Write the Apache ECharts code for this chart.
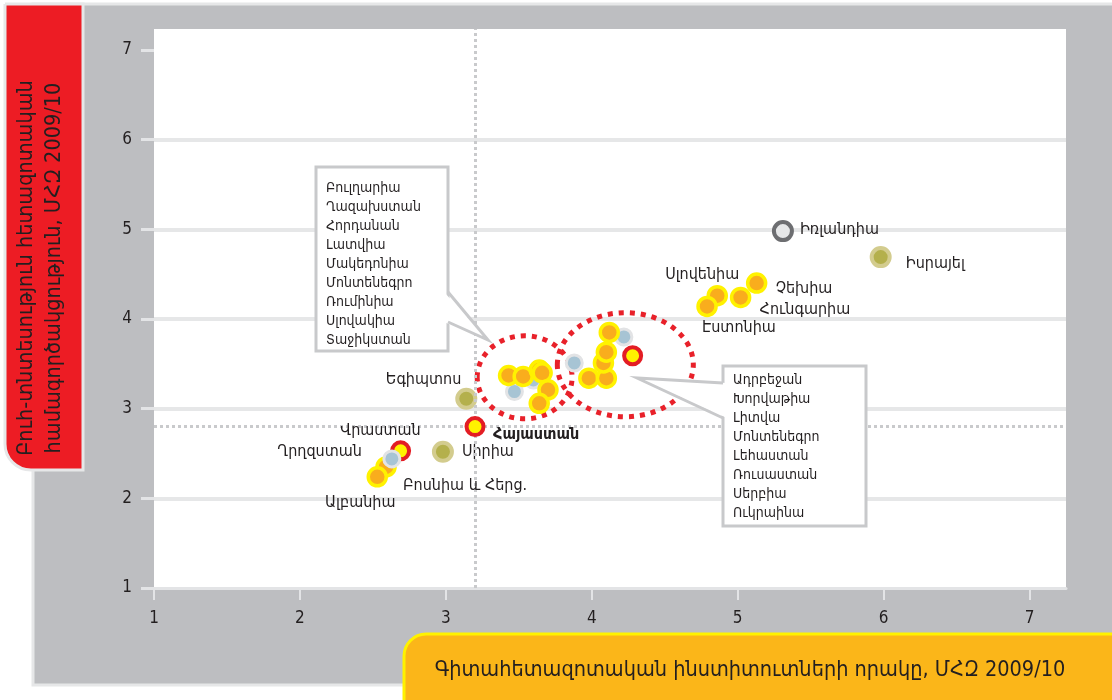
<!DOCTYPE html>
<html>
<head>
<meta charset="utf-8">
<script src="https://cdn.jsdelivr.net/npm/echarts@6/dist/echarts.min.js"></script>
<style>
html, body { margin: 0; padding: 0; background: #fff; }
#chart { width: 1112px; height: 700px; }
</style>
</head>
<body>
<div id="chart"></div>
<script>
// Կենտրոնական և Արևելյան Եվրոպա
var ceeNames = ['Սլովենիա', 'Չեխիա', 'Հունգարիա', 'Էստոնիա', 'Բոսնիա և Հերց.', 'Ալբանիա',
    '', '', '', '', '', '', '', '', '', '', ''];
var ceeX = [4.86, 5.13, 5.02, 4.79, 2.59, 2.53, 3.43, 3.53, 3.64, 3.66, 3.70, 3.64, 3.98, 4.10, 4.08, 4.10, 4.12];
var ceeY = [4.26, 4.40, 4.24, 4.14, 2.35, 2.24, 3.37, 3.36, 3.43, 3.40, 3.21, 3.06, 3.34, 3.34, 3.51, 3.63, 3.85];

// ԱՊՀ
var cisNames = ['', '', '', ''];
var cisX = [3.47, 3.60, 3.88, 4.22];
var cisY = [3.19, 3.32, 3.51, 3.80];

// Ղրղզստանը գծվում է վերևում
var kgNames = ['Ղրղզստան'];
var kgX = [2.63];
var kgY = [2.44];

// Մերձավոր Արևելք
var meNames = ['Եգիպտոս', 'Սիրիա', 'Իսրայել'];
var meX = [3.14, 2.98, 5.98];
var meY = [3.11, 2.52, 4.69];

// Հարավային Կովկաս
var caucNames = ['Հայաստան', 'Վրաստան', ''];
var caucX = [3.20, 2.69, 4.28];
var caucY = [2.80, 2.53, 3.59];

// Իռլանդիա
var refNames = ['Իռլանդիա'];
var refX = [5.31];
var refY = [4.98];

// Հայաստանի մակարդակը
var armX = 3.2;
var armY = 2.8;

var axisTicks = [1, 2, 3, 4, 5, 6, 7];

var leftList = ['Բուլղարիա', 'Ղազախստան', 'Հորդանան', 'Լատվիա', 'Մակեդոնիա', 'Մոնտենեգրո', 'Ռումինիա', 'Սլովակիա', 'Տաջիկստան'];
var rightList = ['Ադրբեջան', 'Խորվաթիա', 'Լիտվա', 'Մոնտենեգրո', 'Լեհաստան', 'Ռուսաստան', 'Սերբիա', 'Ուկրաինա'];

var yTitle = 'Բուհ-տնտեսություն հետազոտական\nհամագործակցություն, ՄՀԶ 2009/10';
var xTitle = 'Գիտահետազոտական ինստիտուտների որակը, ՄՀԶ 2009/10';

var FONT = '"DejaVu Sans Condensed", "DejaVu Sans", sans-serif';
var INK = '#231f20';

// պիտակների դիրքը կետի կենտրոնից [dx, dy, align]
var labelPlace = {
    'Իռլանդիա': [17, -1, 'left'],
    'Իսրայել': [25, 7, 'left'],
    'Սլովենիա': [22, -21, 'right'],
    'Չեխիա': [19, 6, 'left'],
    'Հունգարիա': [19, 12, 'left'],
    'Էստոնիա': [-5, 21, 'left'],
    'Եգիպտոս': [-5, -19, 'right'],
    'Հայաստան': [18, 8, 'left', 'bold'],
    'Վրաստան': [20, -20, 'right'],
    'Ղրղզստան': [-30, -7, 'right'],
    'Բոսնիա և Հերց.': [17, 19, 'left'],
    'Ալբանիա': [-17, 26, 'center'],
    'Սիրիա': [19, 0, 'left']
};

function makeData(names, xs, ys) {
    return names.map(function (n, i) {
        var item = { name: n, value: [xs[i], ys[i]] };
        var p = labelPlace[n];
        if (p) {
            item.label = {
                show: true, position: 'inside', offset: [p[0], p[1]],
                align: p[2], verticalAlign: 'middle', fontWeight: p[3] || 'normal'
            };
        }
        return item;
    });
}

function dotSeries(names, xs, ys, size, fill, border, bw, z) {
    return {
        type: 'scatter',
        z: z,
        symbolSize: size,
        data: makeData(names, xs, ys),
        itemStyle: { color: fill, borderColor: border, borderWidth: bw, opacity: 1 },
        label: { show: false, formatter: '{b}', color: INK, fontSize: 16, fontFamily: FONT },
        emphasis: { disabled: true },
        animation: false
    };
}

var myChart = echarts.init(document.getElementById('chart'));

var option = {
    backgroundColor: '#fff',
    animation: false,
    grid: {
        left: 154, right: 46, top: 29, bottom: 112,
        show: true, backgroundColor: '#fff', borderWidth: 0,
        containLabel: false, outerBoundsMode: 'none'
    },
    xAxis: {
        type: 'value', min: 1, max: 7.25, interval: 1,
        axisLine: { show: true, lineStyle: { color: '#e3e4e6', width: 3 } },
        axisTick: { show: true, length: 12, customValues: axisTicks, lineStyle: { color: '#e3e4e6', width: 2 } },
        axisLabel: { customValues: axisTicks, color: INK, fontSize: 17, fontFamily: FONT, margin: 22 },
        splitLine: { show: false }
    },
    yAxis: {
        type: 'value', min: 1, max: 7.234, interval: 1,
        axisLine: { show: false },
        axisTick: { show: true, length: 13, customValues: axisTicks, lineStyle: { color: '#e3e4e6', width: 3 } },
        axisLabel: { customValues: axisTicks, color: INK, fontSize: 17, fontFamily: FONT, margin: 22 },
        splitLine: { show: true, showMinLine: false, showMaxLine: false, lineStyle: { color: '#e6e7e8', width: 4 } }
    },
    series: [
        {
            type: 'scatter', z: 1, data: [],
            markLine: {
                silent: true, symbol: 'none', animation: false,
                label: { show: false },
                lineStyle: { color: '#c9cacc', width: 3, type: [3, 3] },
                data: [{ xAxis: armX }, { yAxis: armY }]
            }
        },
        dotSeries(cisNames, cisX, cisY, 16, '#a7c4d4', '#e2e3e5', 3, 3),
        dotSeries(meNames, meX, meY, 18, '#b4b04c', '#d3cc8e', 4, 4),
        dotSeries(ceeNames, ceeX, ceeY, 18, '#f9ad1d', '#fff200', 3.5, 5),
        dotSeries(caucNames, caucX, caucY, 17, '#fff200', '#e31d24', 4, 6),
        dotSeries(kgNames, kgX, kgY, 16, '#a7c4d4', '#e2e3e5', 3, 7),
        dotSeries(refNames, refX, refY, 18, '#e6e7e8', '#6d6e71', 4, 7)
    ]
};
myChart.setOption(option);

function px(p) { return myChart.convertToPixel({ gridIndex: 0 }, p); }

// կարմիր կետագծային օղակներ
function ring(cx, cy, hx, hy) {
    var c = px([cx, cy]);
    var e = px([cx + hx, cy + hy]);
    return {
        type: 'ellipse', z: 1, silent: true,
        shape: { cx: c[0], cy: c[1], rx: Math.abs(e[0] - c[0]), ry: Math.abs(c[1] - e[1]) },
        style: { fill: null, stroke: '#e8212a', lineWidth: 5, lineDash: [5, 6] }
    };
}

var boxStroke = '#c8c9cb';

myChart.setOption({
    graphic: [
        // մոխրագույն ֆոն
        { type: 'rect', z: -5, silent: true, shape: { x: 33, y: 4, width: 1090, height: 681 },
          style: { fill: '#bdbec1', stroke: '#e6e7e8', lineWidth: 3 } },
        ring(3.54, 3.35, 0.325, 0.463),
        ring(4.23, 3.49, 0.466, 0.58),
        // ձախ ցուցակ
        { type: 'rect', z: 20, silent: true, shape: { x: 316, y: 167, width: 132, height: 184 },
          style: { fill: '#fff', stroke: boxStroke, lineWidth: 3 } },
        { type: 'polygon', z: 21, silent: true, shape: { points: [[444, 292], [488, 340], [444, 322]] },
          style: { fill: '#fff' } },
        { type: 'polyline', z: 22, silent: true, shape: { points: [[448, 292], [488, 340], [448, 322]] },
          style: { fill: null, stroke: boxStroke, lineWidth: 3 } },
        { type: 'text', z: 23, silent: true, x: 326, y: 179,
          style: { text: leftList.join('\n'), fill: INK, font: '14px ' + FONT, lineHeight: 19, verticalAlign: 'top' } },
        // աջ ցուցակ
        { type: 'rect', z: 20, silent: true, shape: { x: 723, y: 366, width: 143, height: 160 },
          style: { fill: '#fff', stroke: boxStroke, lineWidth: 3 } },
        { type: 'polygon', z: 21, silent: true, shape: { points: [[727, 383], [637, 378], [727, 418]] },
          style: { fill: '#fff' } },
        { type: 'polyline', z: 22, silent: true, shape: { points: [[723, 383], [637, 378], [723, 418]] },
          style: { fill: null, stroke: boxStroke, lineWidth: 3 } },
        { type: 'text', z: 23, silent: true, x: 733, y: 371,
          style: { text: rightList.join('\n'), fill: INK, font: '14px ' + FONT, lineHeight: 19, verticalAlign: 'top' } },
        // y առանցքի վերնագիր
        { type: 'rect', z: 30, silent: true, shape: { x: 5, y: 4, width: 78, height: 466, r: [0, 0, 0, 26] },
          style: { fill: '#ed1c24', stroke: '#e6e7e8', lineWidth: 3 } },
        { type: 'text', z: 31, silent: true, x: 40, y: 268, rotation: Math.PI / 2,
          style: { text: yTitle, fill: INK, font: '21.5px ' + FONT, lineHeight: 28, align: 'center', verticalAlign: 'middle' } },
        // x առանցքի վերնագիր
        { type: 'rect', z: 30, silent: true, shape: { x: 404, y: 634, width: 720, height: 80, r: [22, 0, 0, 0] },
          style: { fill: '#fbb619', stroke: '#fff200', lineWidth: 3 } },
        { type: 'text', z: 31, silent: true, x: 750, y: 670,
          style: { text: xTitle, fill: INK, font: '21.5px ' + FONT, align: 'center', verticalAlign: 'middle' } }
    ]
});
</script>
</body>
</html>
